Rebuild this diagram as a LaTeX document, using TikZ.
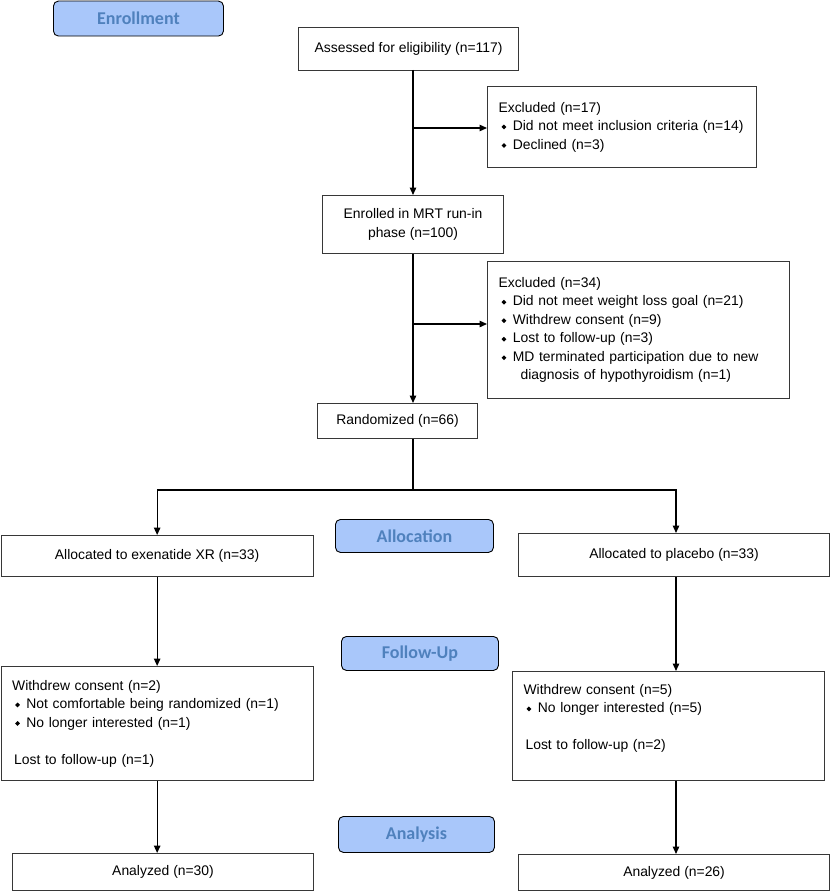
\documentclass[tikz,border=0pt]{standalone}
\usepackage{fontspec}
\setmainfont{Liberation Sans}
\newfontfamily\hdrfont{Carlito}
\usetikzlibrary{arrows.meta}
\definecolor{hdrfill}{RGB}{169,199,250}
\definecolor{hdrtext}{RGB}{79,129,189}
\definecolor{boxline}{RGB}{55,55,55}
\newcommand{\bul}{\raisebox{1.3pt}{\rotatebox{45}{\rule{3.4pt}{3.4pt}}}}
\newcommand{\bitem}{\hspace{3pt}\bul\hspace{6.5pt}}
\newcommand{\fs}{\fontsize{13.9}{18.5}\selectfont}
\begin{document}
\begin{tikzpicture}[x=1pt,y=-1pt,
  box/.style={draw=boxline, line width=1.1pt, inner sep=0pt, anchor=north west, font=\fs, align=center},
  lbox/.style={draw=boxline, line width=1.1pt, inner ysep=0pt, inner xsep=11pt, anchor=north west, font=\fs, align=left},
  hdr/.style={draw=black, line width=0.9pt, fill=hdrfill, rounded corners=5pt, text=hdrtext,
    font=\hdrfont\bfseries\fontsize{18}{20}\selectfont, anchor=north west, inner sep=0pt},
  arr/.style={-{Triangle[length=7.5pt,width=6.5pt]}, line width=1.3pt},
  ln/.style={line width=1.3pt}]
\useasboundingbox (0,0) rectangle (831,891);

% headers
\node[hdr, minimum width=170pt, minimum height=35pt] (henr) at (53,0.6) {Enrollment};
\node[hdr, minimum width=158pt, minimum height=33pt] (halloc) at (335,519) {Allocation};
\node[hdr, minimum width=157pt, minimum height=34pt] (hfu) at (341,636) {Follow-Up};
\node[hdr, minimum width=156pt, minimum height=36pt] (han) at (338,816) {Analysis};

% enrollment boxes
\node[box, minimum width=220pt, minimum height=43pt] (assess) at (298,27) {Assessed for eligibility (n=117)};
\node[lbox, text width=247pt, minimum height=81pt] (excl1) at (487,86)
  {Excluded (n=17)\\ \bitem Did not meet inclusion criteria (n=14)\\ \bitem Declined (n=3)};
\node[box, minimum width=181pt, minimum height=58pt] (enrol) at (322,195) {Enrolled in MRT run-in\\ phase (n=100)};
\node[lbox, text width=280pt, minimum height=137pt] (excl2) at (487,261)
  {Excluded (n=34)\\ \bitem Did not meet weight loss goal (n=21)\\ \bitem Withdrew consent (n=9)\\
   \bitem Lost to follow-up (n=3)\\ \bitem MD terminated participation due to new\\
   \hspace{22pt}diagnosis of hypothyroidism (n=1)};
\node[box, minimum width=160pt, minimum height=35pt] (rand) at (317,403) {Randomized (n=66)};

% allocation
\node[box, minimum width=312pt, minimum height=41pt] (al1) at (0.6,535) {Allocated to exenatide XR (n=33)};
\node[box, minimum width=311pt, minimum height=43pt] (al2) at (518,533) {Allocated to placebo (n=33)};

% follow-up
\node[lbox, text width=290pt, minimum height=114pt] (fu1) at (0.6,666)
  {Withdrew consent (n=2)\\ \bitem Not comfortable being randomized (n=1)\\ \bitem No longer interested (n=1)\\[18.5pt]
   \hspace{2pt}Lost to follow-up (n=1)};
\node[lbox, text width=290pt, minimum height=109pt] (fu2) at (512,671)
  {Withdrew consent (n=5)\\ \bitem No longer interested (n=5)\\[18.5pt]
   \hspace{2pt}Lost to follow-up (n=2)\\ \mbox{}};

% analysis
\node[box, minimum width=301pt, minimum height=37pt] (an1) at (12,853) {Analyzed (n=30)};
\node[box, minimum width=311pt, minimum height=36pt] (an2) at (518,854) {Analyzed (n=26)};

% connectors
\coordinate (b1) at (413,128);
\coordinate (b2) at (413,324);
\coordinate (split) at (413,490);
\draw[arr] (413,70) coordinate (a0) -- (a0 |- enrol.north);
\draw[arr] (b1) -- (b1 -| excl1.west);
\draw[arr] (enrol.south -| a0) -- (a0 |- rand.north);
\draw[arr] (b2) -- (b2 -| excl2.west);
\draw[ln] (rand.south -| a0) -- (split);
\draw[arr] (split) -| (al1.north);
\draw[arr] (split) -| (676,533) coordinate (rtop);
\draw[arr] (al1.south) -- (al1.south |- fu1.north);
\draw[arr] (rtop |- al2.south) -- (rtop |- fu2.north);
\draw[arr] (al1.south |- fu1.south) -- (al1.south |- an1.north);
\draw[arr] (rtop |- fu2.south) -- (rtop |- an2.north);
\end{tikzpicture}
\end{document}
